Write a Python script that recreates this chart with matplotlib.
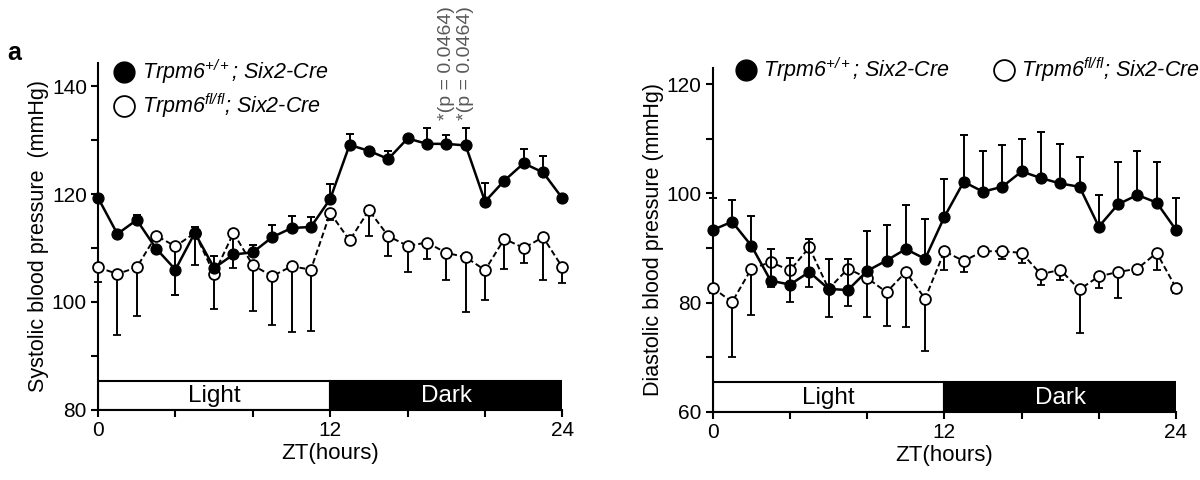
import matplotlib
matplotlib.use("Agg")
import matplotlib.pyplot as plt
from matplotlib.lines import Line2D
from matplotlib.ticker import MultipleLocator
import numpy as np

plt.rcParams['font.family'] = ['Liberation Sans', 'DejaVu Sans']
plt.rcParams['mathtext.fontset'] = 'custom'
plt.rcParams['mathtext.rm'] = 'Liberation Sans'
plt.rcParams['mathtext.it'] = 'Liberation Sans:italic'

hours = np.arange(25)

# systolic, Trpm6+/+ (filled) and Trpm6fl/fl (open)
sys_wt = [119.3, 112.6, 115.2, 109.9, 106.0, 112.8, 106.3, 108.8, 109.2, 112.0, 113.7, 113.9, 119.1,
          129.1, 128.0, 126.5, 130.3, 129.3, 129.3, 129.0, 118.6, 122.5, 125.7, 124.0, 119.2]
sys_wt_up = [0, 0, 1.0, 0, 0, 1.1, 2.3, 0, 1.3, 2.2, 2.3, 1.8, 2.7,
             2.0, 0.5, 1.4, 0.3, 2.9, 1.6, 3.2, 3.5, 0, 2.7, 3.1, 0]
sys_wt_dn = [0, 0, 0, 0, 4.8, 0, 0, 0, 0, 0, 0, 0, 0,
             0, 0, 0, 0, 0, 0, 0, 0, 0, 0, 0, 0]
sys_ko = [106.4, 105.2, 106.4, 112.3, 110.3, 112.8, 105.2, 112.8, 106.8, 104.8, 106.6, 106.0, 116.5,
          111.4, 117.0, 112.2, 110.4, 111.0, 109.1, 108.3, 105.9, 111.7, 110.0, 112.0, 106.4]
sys_ko_dn = [2.7, 11.4, 9.0, 0, 3.8, 6.0, 6.5, 6.5, 8.4, 9.0, 12.1, 11.4, 1.3,
             0, 4.8, 3.7, 4.9, 3.0, 5.1, 10.2, 5.5, 5.5, 2.8, 8.0, 2.8]

# diastolic
dia_wt = [93.3, 94.8, 90.4, 84.0, 83.3, 85.6, 82.5, 82.3, 85.8, 87.7, 89.8, 88.0, 95.7,
          102.1, 100.3, 101.2, 104.0, 102.8, 101.8, 101.2, 93.9, 98.0, 99.7, 98.3, 93.3]
dia_wt_up = [5.8, 4.0, 5.5, 5.9, 4.9, 6.1, 5.4, 5.6, 7.3, 6.5, 8.1, 7.3, 6.9,
             8.5, 7.4, 7.6, 6.0, 8.5, 7.3, 5.5, 5.8, 7.8, 8.0, 7.5, 5.8]
dia_ko = [82.7, 80.1, 86.2, 87.4, 85.9, 90.1, 82.5, 86.2, 84.5, 81.9, 85.6, 80.7, 89.4,
          87.6, 89.4, 89.4, 89.1, 85.2, 86.0, 82.4, 84.8, 85.6, 86.2, 89.1, 82.7]
dia_ko_dn = [0.9, 10.0, 8.4, 4.6, 5.8, 7.3, 5.2, 6.8, 7.2, 6.1, 10.1, 9.5, 3.5,
             2.0, 0.6, 1.5, 1.8, 1.9, 1.8, 8.0, 2.1, 4.7, 1.0, 3.2, 0.9]

wt_label = r'Trpm6$^{\mathregular{+/+}}$; Six2-Cre'
ko_label = r'Trpm6$^{\mathregular{fl/fl}}$; Six2-Cre'
phases = ['Light', 'Dark']
phase_start = [0, 12]
signif_hours = [18, 19]
signif_text = '*(p = 0.0464)'


def draw_panel(ax, wt, wt_err, ko, ko_err, ymin, ytop, ylabel):
    ax.errorbar(hours, ko, yerr=ko_err, color='black', ls=(0, (3, 1.6)), lw=1.4,
                marker='o', ms=7.8, mfc='white', mec='black', mew=1.3,
                capsize=3.2, elinewidth=1.4, capthick=1.4, clip_on=False, zorder=3)
    ax.errorbar(hours, wt, yerr=wt_err, color='black', ls='-', lw=1.8,
                marker='o', ms=7.8, mfc='black', mec='black',
                capsize=3.2, elinewidth=1.4, capthick=1.4, clip_on=False, zorder=4)
    bar_h = 5.4
    ax.bar(phase_start, [bar_h, bar_h], width=12, bottom=ymin, align='edge',
           color=['white', 'black'], edgecolor='black', lw=1.5, zorder=2)
    for start, name, col in zip(phase_start, phases, ['black', 'white']):
        ax.text(start + 6, ymin + bar_h / 2 - 0.2, name, ha='center', va='center',
                fontsize=17.5, color=col, zorder=5)
    ax.set_xlim(0, 24)
    ax.set_ylim(ymin, ytop)
    ax.set_xticks([0, 12, 24])
    ax.xaxis.set_minor_locator(MultipleLocator(4))
    ax.yaxis.set_major_locator(MultipleLocator(20))
    ax.yaxis.set_minor_locator(MultipleLocator(10))
    ax.tick_params(which='both', direction='out', width=1.5, labelsize=15, pad=3)
    ax.tick_params(which='major', length=5)
    ax.tick_params(which='minor', length=5)
    for side in ['top', 'right']:
        ax.spines[side].set_visible(False)
    for side in ['left', 'bottom']:
        ax.spines[side].set_linewidth(1.5)
    ax.set_xlabel('ZT(hours)', fontsize=16, labelpad=2)
    ax.set_ylabel(ylabel, fontsize=15.5, labelpad=2)


fig = plt.figure(figsize=(12, 4.8), dpi=100)
ax1 = fig.add_axes([0.0817, 0.146, 0.387, 0.723])
ax2 = fig.add_axes([0.594, 0.142, 0.386, 0.717])

draw_panel(ax1, sys_wt, [sys_wt_dn, sys_wt_up], sys_ko, [sys_ko_dn, [0] * 25],
           80, 144.3, 'Systolic blood pressure  (mmHg)')
draw_panel(ax2, dia_wt, [[0] * 25, dia_wt_up], dia_ko, [dia_ko_dn, [0] * 25],
           60, 123, 'Diastolic blood pressure (mmHg)')

for h in signif_hours:
    ax1.text(h, 133.8, signif_text, rotation=90, ha='center', va='bottom',
             fontsize=14, color='0.35', clip_on=False)

handles = [Line2D([], [], ls='none', marker='o', ms=15, mfc='black', mec='black'),
           Line2D([], [], ls='none', marker='o', ms=15, mfc='white', mec='black', mew=1.3)]
leg_font = {'size': 15.5, 'style': 'italic'}
ax1.legend(handles, [wt_label, ko_label], loc='upper left', bbox_to_anchor=(0.015, 1.04),
           frameon=False, prop=leg_font, handlelength=1.0, handletextpad=0.3,
           labelspacing=0.25, borderaxespad=0)
ax2.legend(handles, [wt_label, ko_label], loc='upper left', bbox_to_anchor=(0.03, 1.06),
           ncol=2, frameon=False, prop=leg_font, handlelength=1.0, handletextpad=0.3,
           columnspacing=2.0, borderaxespad=0)

fig.text(0.006, 0.875, 'a', fontsize=18, fontweight='bold')

fig.savefig('out.png', dpi=100)
